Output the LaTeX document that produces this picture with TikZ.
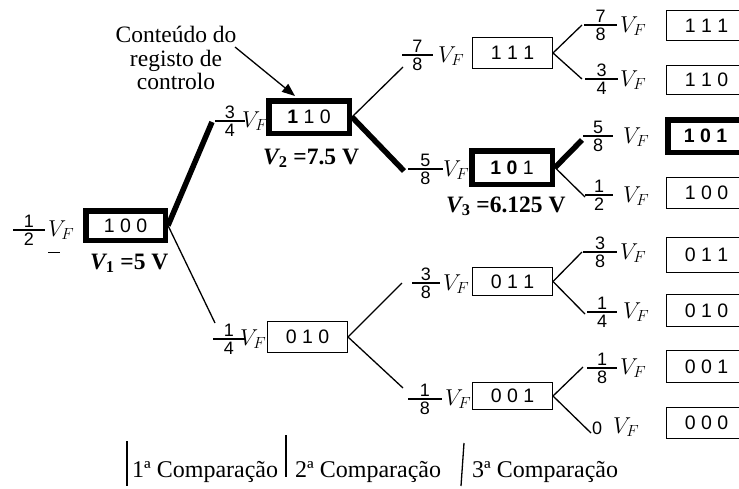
\documentclass[tikz,border=0pt]{standalone}
\usepackage{fix-cm}
\usepackage{fontspec}
\setmainfont{Liberation Serif}
\newfontfamily\arialf{Liberation Sans}
\usetikzlibrary{arrows.meta}
\tikzset{
  thinln/.style={line width=1.3pt},
  thickln/.style={line width=5.5pt},
  reg/.style={draw, line width=1.3pt, inner sep=0pt, font=\arialf\fontsize{19.5}{20}\selectfont},
  regb/.style={reg, line width=5.5pt},
  num/.style={inner sep=0pt, font=\arialf\fontsize{18}{18}\selectfont},
  vf/.style={inner sep=0pt, font=\fontsize{23}{24}\selectfont},
  txt/.style={inner sep=0pt, font=\fontsize{23.5}{23.5}\selectfont},
  cmp/.style={inner sep=0pt, font=\fontsize{24}{24}\selectfont},
  vlab/.style={inner sep=0pt, font=\fontsize{23.5}{24}\selectfont\bfseries},
}
% #1 name, #2 x, #3 y of bar left end, #4 bar length, #5 numerator, #6 denominator
\newcommand{\frc}[6]{%
  \coordinate (#1) at (#2,#3);
  \draw[thinln] (#1) -- (#2+#4,#3) coordinate (#1e);
  \node[num,anchor=south] (#1n) at (#2+#4/2,#3-2) {#5};
  \node[num,anchor=north] (#1d) at (#2+#4/2,#3+3) {#6};
}
\newcommand{\vlabel}[2]{{\itshape V}\textsubscript{#1} =#2 V}
\begin{document}
\begin{tikzpicture}[x=1pt,y=-1pt]
\useasboundingbox (0,0) rectangle (739,488);
\clip (0,0) rectangle (739,488);

% ---------- registers ----------
\node[regb, minimum width=79.5pt, minimum height=29.5pt] (b1) at (125.5,225.5) {1 0 0};
\node[regb, minimum width=80.5pt, minimum height=32.5pt] (b2) at (309,117) {{\bfseries 1} 1 0};
\node[reg, minimum width=79.7pt, minimum height=30.7pt] (b3) at (512.5,53) {1 1 1};
\node[regb, minimum width=80.5pt, minimum height=33.5pt] (b4) at (512,167.5) {{\bfseries 1 0} 1};
\node[reg, minimum width=79.7pt, minimum height=30.7pt] (b5) at (307.5,337) {0 1 0};
\node[reg, minimum width=79.7pt, minimum height=27.7pt] (b6) at (512.5,281.5) {0 1 1};
\node[reg, minimum width=79.7pt, minimum height=26.7pt] (b7) at (512.5,396) {0 0 1};

\node[reg, minimum width=79.7pt, minimum height=29.7pt] (r1) at (706.5,25.5) {1 1 1};
\node[reg, minimum width=79.7pt, minimum height=28.7pt] (r2) at (706.5,80) {1 1 0};
\node[regb, minimum width=75.5pt, minimum height=32.5pt] (r3) at (705.5,136) {\bfseries 1 0 1};
\node[reg, minimum width=79.7pt, minimum height=30.7pt] (r4) at (706.5,193) {1 0 0};
\node[reg, minimum width=79.7pt, minimum height=34.7pt] (r5) at (706.5,255) {0 1 1};
\node[reg, minimum width=79.7pt, minimum height=31.7pt] (r6) at (706.5,310.5) {0 1 0};
\node[reg, minimum width=79.7pt, minimum height=31.7pt] (r7) at (706.5,366.5) {0 0 1};
\node[reg, minimum width=79.7pt, minimum height=30.7pt] (r8) at (706.5,423) {0 0 0};

% ---------- voltage fractions ----------
\frc{fa}{13}{230}{32}{1}{2}
\node[vf,anchor=base west] (fav) at (48,236) {$V_F$};
\coordinate (dashA) at (48,252);
\coordinate (dashB) at (60,252);
\draw[line width=1pt] (dashA) -- (dashB);

\frc{fb}{215}{121}{30}{3}{4}
\node[vf,anchor=base west] (fbv) at (242,127) {$V_F$};
\frc{fc}{402}{55}{31}{7}{8}
\node[vf,anchor=base west] (fcv) at (438,62) {$V_F$};
\frc{fd}{408}{169}{35}{5}{8}
\node[vf,anchor=base west] (fdv) at (443,176) {$V_F$};
\frc{fe}{213}{339}{32}{1}{4}
\node[vf,anchor=base west] (fev) at (240,345) {$V_F$};
\frc{ff}{412}{283}{28}{3}{8}
\node[vf,anchor=base west] (ffv) at (443,290) {$V_F$};
\frc{fg}{408}{399}{34}{1}{8}
\node[vf,anchor=base west] (fgv) at (445,405) {$V_F$};

\frc{fh}{584}{25}{33}{7}{8}
\node[vf,anchor=base west] (fhv) at (620,32) {$V_F$};
\frc{fi}{585}{79}{33}{3}{4}
\node[vf,anchor=base west] (fiv) at (620,86) {$V_F$};
\frc{fj}{583}{136}{30}{5}{8}
\node[vf,anchor=base west] (fjv) at (623,143) {$V_F$};
\frc{fk}{585}{195}{28}{1}{2}
\node[vf,anchor=base west] (fkv) at (623,202) {$V_F$};
\frc{fl}{583}{252}{34}{3}{8}
\node[vf,anchor=base west] (flv) at (620,259) {$V_F$};
\frc{fm}{587}{312}{30}{1}{4}
\node[vf,anchor=base west] (fmv) at (623,318) {$V_F$};
\frc{fn}{587}{368}{30}{1}{8}
\node[vf,anchor=base west] (fnv) at (620,374) {$V_F$};
\node[num,anchor=base west] (fo) at (592,434) {0};
\node[vf,anchor=base west] (fov) at (613,433) {$V_F$};

% ---------- branch end points ----------
\coordinate (e1) at (212,122);
\coordinate (e2) at (215,323);
\coordinate (e3) at (403,67);
\coordinate (e4) at (404,171);
\coordinate (e5) at (402,283);
\coordinate (e6) at (403,388);
\coordinate (e7) at (582,25);
\coordinate (e8) at (582,79);
\coordinate (e9) at (582,140);
\coordinate (e10) at (585,197);
\coordinate (e11) at (582,252);
\coordinate (e12) at (585,314);
\coordinate (e13) at (583,367);
\coordinate (e14) at (591,433);

% ---------- connectors ----------
\draw[thickln] (b1.east) -- (e1);
\draw[thinln] (b1.east) -- (e2);
\draw[thinln] (b2.east) -- (e3);
\draw[thickln] (b2.east) -- (e4);
\draw[thinln] (b5.east) -- (e5);
\draw[thinln] (b5.east) -- (e6);
\draw[thinln] (b3.east) -- (e7);
\draw[thinln] (b3.east) -- (e8);
\draw[thickln] (b4.east) -- (e9);
\draw[thinln] (b4.east) -- (e10);
\draw[thinln] (b6.east) -- (e11);
\draw[thinln] (b6.east) -- (e12);
\draw[thinln] (b7.east) -- (e13);
\draw[thinln] (b7.east) -- (e14);

% ---------- annotations ----------
\node[txt, align=center, anchor=north] (note) at (176,26) {Conteúdo do\\registo de\\controlo};
\coordinate (arrS) at (235,47);
\coordinate (arrE) at (295,96);
\draw[thinln, -{Triangle[length=13pt,width=10pt]}] (arrS) -- (arrE);

\node[vlab, anchor=base west] (v1) at (90,269) {\vlabel{1}{5}};
\node[vlab, anchor=base west] (v2) at (263,164) {\vlabel{2}{7.5}};
\node[vlab, anchor=base west] (v3) at (446,212) {\vlabel{3}{6.125}};

% ---------- comparison steps ----------
\coordinate (s1a) at (127,441); \coordinate (s1b) at (127,486);
\coordinate (s2a) at (286,435); \coordinate (s2b) at (286,477);
\coordinate (s3a) at (464,443); \coordinate (s3b) at (461,486);
\draw[thinln] (s1a) -- (s1b);
\draw[thinln] (s2a) -- (s2b);
\draw[thinln] (s3a) -- (s3b);
\node[cmp, anchor=base west] (c1) at (132,477) {1ª Comparação};
\node[cmp, anchor=base west] (c2) at (295,477) {2ª Comparação};
\node[cmp, anchor=base west] (c3) at (472,477) {3ª Comparação};
\end{tikzpicture}
\end{document}
